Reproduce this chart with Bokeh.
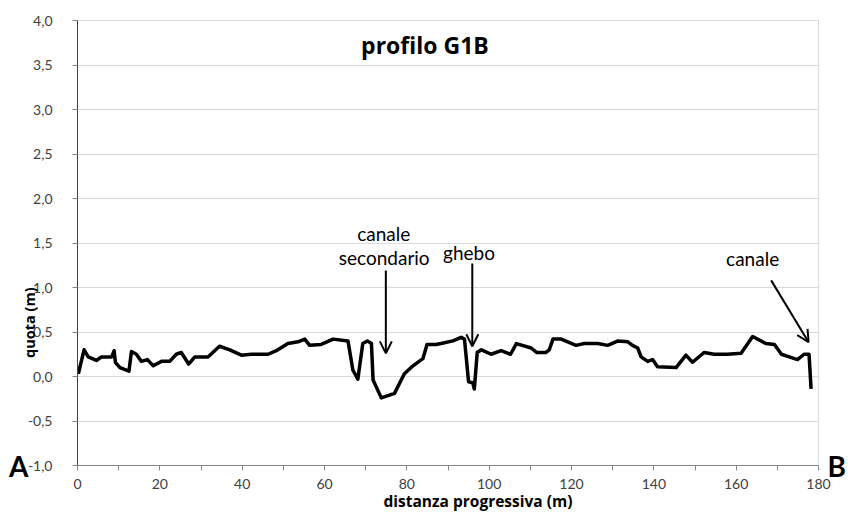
from bokeh.plotting import figure
from bokeh.models import (Range1d, FixedTicker, Label, Arrow, OpenHead, ColumnDataSource,
                          LinearAxis, Title)
from bokeh.embed import file_html
from bokeh.resources import INLINE

# ---- data ----
distanza = [0.2, 1.6, 2.6, 4.6, 5.8, 8.3, 8.9, 9.2, 10.3, 12.5, 13.1, 14.3, 15.5, 17.0, 18.4,
            20.4, 22.4, 24.0, 25.2, 27.0, 28.5, 31.7, 34.5, 37.0, 39.8, 42.2, 44.7, 46.3, 48.3,
            51.1, 53.6, 55.2, 56.4, 59.2, 62.1, 65.7, 66.9, 68.1, 69.3, 70.4, 71.4, 71.8, 73.8,
            77.0, 79.4, 81.5, 83.9, 84.9, 87.1, 88.3, 91.2, 93.2, 94.0, 95.0, 96.0, 96.4, 97.1,
            98.1, 100.5, 102.9, 105.2, 106.6, 110.2, 111.5, 113.8, 114.6, 115.5, 117.5, 121.1,
            123.1, 126.4, 128.8, 131.3, 133.7, 134.8, 136.1, 136.9, 138.5, 139.7, 140.9, 145.4,
            147.8, 149.4, 152.2, 154.7, 157.9, 161.2, 164.0, 167.2, 169.3, 171.0, 172.9, 174.9,
            176.5, 177.7, 178.2]
quota = [0.03, 0.30, 0.22, 0.18, 0.22, 0.22, 0.29, 0.16, 0.10, 0.06, 0.28, 0.25, 0.17, 0.19, 0.12,
         0.17, 0.17, 0.25, 0.27, 0.14, 0.22, 0.22, 0.34, 0.30, 0.24, 0.25, 0.25, 0.25, 0.29,
         0.37, 0.39, 0.42, 0.35, 0.36, 0.42, 0.40, 0.07, -0.03, 0.37, 0.40, 0.37, -0.04, -0.24,
         -0.19, 0.03, 0.12, 0.20, 0.36, 0.36, 0.37, 0.40, 0.44, 0.42, -0.06, -0.07, -0.14, 0.27,
         0.30, 0.25, 0.29, 0.25, 0.37, 0.32, 0.27, 0.27, 0.30, 0.42, 0.42, 0.35,
         0.37, 0.37, 0.35, 0.40, 0.39, 0.35, 0.32, 0.22, 0.17, 0.19, 0.11, 0.10,
         0.24, 0.16, 0.27, 0.25, 0.25, 0.26, 0.45, 0.37, 0.36, 0.25, 0.22, 0.19,
         0.25, 0.25, -0.14]

y_ticks = [-1.0, -0.5, 0.0, 0.5, 1.0, 1.5, 2.0, 2.5, 3.0, 3.5, 4.0]
y_tick_labels = ["-1,0", "-0,5", "0,0", "0,5", "1,0", "1,5", "2,0", "2,5", "3,0", "3,5", "4,0"]
x_ticks = [0, 20, 40, 60, 80, 100, 120, 140, 160, 180]

title_text = "profilo G1B"
x_title = "distanza progressiva (m)"
y_title = "quota (m)"
end_labels = ["A", "B"]

FONT = "Lato"
TFONT = "Open Sans"

p = figure(width=848, height=512, output_backend="svg", toolbar_location=None,
           x_range=Range1d(0, 180), y_range=Range1d(-1, 4),
           min_border_left=77, min_border_right=28, min_border_top=20, min_border_bottom=47)
p.background_fill_color = "white"
p.border_fill_color = "white"
p.outline_line_color = "#d9d9d9"

src = ColumnDataSource(dict(x=distanza, y=quota))
p.line("x", "y", source=src, line_color="black", line_width=3.5, line_join="round")

# axes
p.yaxis.ticker = FixedTicker(ticks=y_ticks)
p.yaxis.major_label_overrides = {t: l for t, l in zip(y_ticks, y_tick_labels)}
p.xaxis.ticker = FixedTicker(ticks=x_ticks, minor_ticks=[t + 10 for t in x_ticks[:-1]])
for ax in (p.xaxis[0], p.yaxis[0]):
    ax.major_label_text_font = FONT
    ax.major_label_text_font_size = "14px"
    ax.major_label_text_color = "#404040"
    ax.major_tick_in = 0
    ax.major_tick_out = 5
    ax.minor_tick_in = 0
    ax.minor_tick_out = 5
    ax.major_tick_line_color = "#868686"
    ax.minor_tick_line_color = "#868686"
p.yaxis.minor_tick_line_color = None
p.yaxis.axis_line_color = "#404040"
p.xaxis.axis_line_color = "#868686"
p.yaxis.major_label_standoff = 20
p.xaxis.major_label_standoff = 8

# y title as axis label, shifted down by trailing em spaces, pulled inwards
p.yaxis.axis_label = y_title + "\u2003" * 11
p.yaxis.axis_label_text_font = TFONT
p.yaxis.axis_label_text_font_size = "14.5px"
p.yaxis.axis_label_text_font_style = "bold"
p.yaxis.axis_label_text_color = "black"
p.yaxis.axis_label_standoff = -14

p.xgrid.grid_line_color = None
p.ygrid.ticker = FixedTicker(ticks=y_ticks)
p.ygrid.grid_line_color = "#d9d9d9"
p.ygrid.grid_line_width = 1

# x title
p.add_layout(Title(text=x_title, align="left", offset=306, standoff=-7,
                   text_font=TFONT, text_font_size="15.5px", text_font_style="bold",
                   text_color="black"), "below")

# A / B end markers as tick labels of extra axes
for side, label, standoff in (("left", end_labels[0], -12), ("right", end_labels[1], 9)):
    ax = LinearAxis(ticker=FixedTicker(ticks=[-1.0]), major_label_overrides={-1.0: label},
                    axis_line_color=None, major_tick_line_color=None,
                    minor_tick_line_color=None, major_tick_in=0, major_tick_out=0,
                    minor_tick_in=0, minor_tick_out=0, major_label_standoff=standoff,
                    major_label_text_font=FONT, major_label_text_font_size="28px",
                    major_label_text_font_style="bold", major_label_text_color="black")
    p.add_layout(ax, side)

# title (inside frame)
p.add_layout(Label(x=84.4, y=3.72, text=title_text, text_font=TFONT, text_font_size="23px",
                   text_font_style="bold", text_color="black",
                   text_align="center", text_baseline="middle"))

# annotations
ann_font = "19px"
for (tx, ty, tt) in [(74.4, 1.61, "canale"), (74.5, 1.34, "secondario"),
                     (95.1, 1.39, "ghebo"), (164.0, 1.33, "canale")]:
    p.add_layout(Label(x=tx, y=ty, text=tt, text_font=FONT, text_font_size=ann_font,
                       text_color="black", text_align="center", text_baseline="middle"))

for (xs, ys, xe, ye) in [(74.9, 1.19, 74.9, 0.26), (95.9, 1.27, 95.9, 0.34),
                         (168.5, 1.08, 177.6, 0.385)]:
    p.add_layout(Arrow(end=OpenHead(size=12, line_width=2, line_color="black"),
                       x_start=xs, y_start=ys, x_end=xe, y_end=ye,
                       line_width=2, line_color="black"))

open("out.html", "w").write(file_html(p, INLINE))
